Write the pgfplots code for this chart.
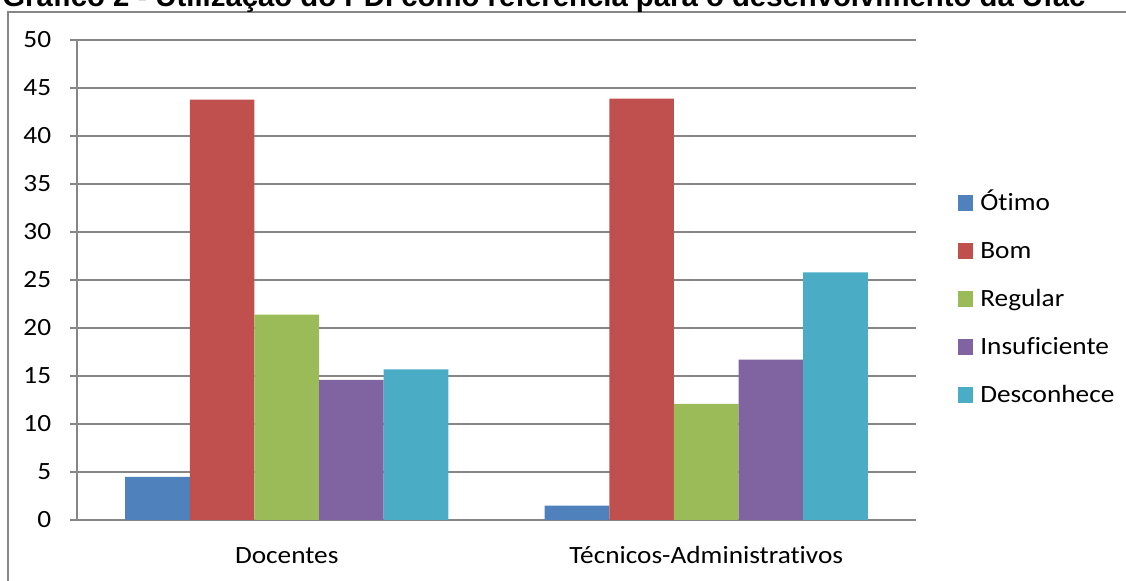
\documentclass[border=0pt]{standalone}
\usepackage{pgfplots}
\pgfplotsset{compat=1.18}
\usepackage{fontspec}
\setmainfont{Carlito}[FakeStretch=1.1, RawFeature=-liga]
\newfontfamily\titlefont{Liberation Sans}
\definecolor{cBlue}{HTML}{4F81BD}
\definecolor{cRed}{HTML}{C0504D}
\definecolor{cGreen}{HTML}{9BBB59}
\definecolor{cPurple}{HTML}{8064A2}
\definecolor{cCyan}{HTML}{4BACC6}
\definecolor{cGrid}{HTML}{868686}
\begin{document}
\begin{tikzpicture}
\useasboundingbox (0pt,0pt) rectangle (563pt,290.5pt);
\begin{scope}
\clip (0pt,0pt) rectangle (563pt,290.5pt);
\draw[cGrid,line width=0.6pt] (4pt,-10pt) -- (4pt,284.5pt) -- (580pt,284.5pt);
\node[anchor=base west,inner sep=0pt] at (1pt,287pt) {\resizebox{541.5pt}{!}{\titlefont\bfseries Gráfico 2 - Utilização do PDI como referência para o desenvolvimento da Ufac}};
\end{scope}
\begin{axis}[
  at={(38.5pt,30.5pt)}, anchor=south west,
  scale only axis, width=419.5pt, height=240pt,
  ybar=0pt, bar width=0.154,
  xmin=-0.5, xmax=1.5, ymin=0, ymax=50,
  ytick distance=5,
  xtick={0,1},
  xticklabels={Docentes, Técnicos-Administrativos},
  major x tick style={draw=none},
  extra x ticks={-0.5,0.5,1.5},
  extra x tick labels={},
  extra x tick style={major tick style={draw=cGrid, line width=0.6pt}},
  axis x line*=bottom, axis y line*=left,
  axis line style={cGrid, line width=0.6pt, -},
  tick align=outside, major tick length=3.75pt,
  tick style={cGrid, line width=0.6pt},
  ymajorgrids, grid style={cGrid, line width=0.6pt},
  tick label style={font=\fontsize{12.4}{14}\selectfont},
  /pgf/number format/assume math mode=true,
  yticklabel style={anchor=east, inner sep=0pt, xshift=-9pt},
  xticklabel style={anchor=base, inner sep=0pt, yshift=-18pt},
  legend style={draw=none, fill=none, at={(1.050,0.4604)}, anchor=west,
    inner sep=0pt, outer sep=0pt, row sep=16.3pt, column sep=3.5pt,
    font=\fontsize{12.4}{14}\selectfont,
    nodes={inner sep=0pt, text height=7.7pt, text depth=0pt}},
  legend cell align=left,
  legend image code/.code={\fill[#1] (0pt,-3.85pt) rectangle (7.7pt,3.85pt);},
  clip=false,
]
\addplot[fill=cBlue, draw=none] coordinates {(0,4.5) (1,1.5)};
\addplot[fill=cRed, draw=none] coordinates {(0,43.8) (1,43.9)};
\addplot[fill=cGreen, draw=none] coordinates {(0,21.4) (1,12.1)};
\addplot[fill=cPurple, draw=none] coordinates {(0,14.6) (1,16.7)};
\addplot[fill=cCyan, draw=none] coordinates {(0,15.7) (1,25.8)};
\legend{Ótimo, Bom, Regular, Insuficiente, Desconhece}
\end{axis}
\end{tikzpicture}
\end{document}
